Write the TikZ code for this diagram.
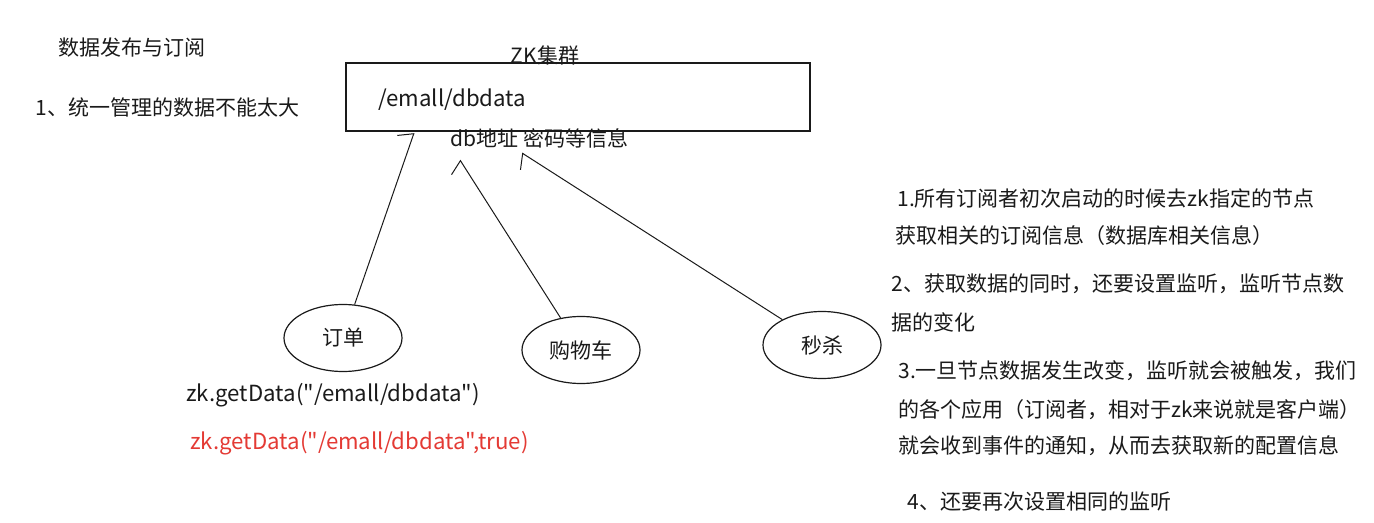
\documentclass[tikz,border=0pt]{standalone}
\usepackage{fontspec}
\setmainfont{Noto Sans CJK SC}[Ligatures=TeXOff]
\usetikzlibrary{arrows.meta,shapes.geometric}
\definecolor{ink}{RGB}{26,26,26}
\definecolor{redink}{RGB}{228,58,52}
\begin{document}
\begin{tikzpicture}[x=0.5pt,y=-0.5pt,
    every node/.style={inner sep=0pt,text=ink,font=\fontsize{10.5}{12}\selectfont},
    txt/.style={anchor=west},
    code/.style={anchor=west,font=\fontsize{11.1}{13}\selectfont},
    app/.style={draw=ink,ellipse,line width=0.6pt,minimum width=59pt,minimum height=33.5pt},
    barb/.style={-{Straight Barb[left,length=3.5pt,width=15pt]},draw=ink,line width=0.5pt}]
  \useasboundingbox[fill=white] (0,0) rectangle (1374,523);
  % titles on the left
  \node[txt] (title) at (58,48) {数据发布与订阅};
  \node[txt] (rule1) at (35,108) {1、统一管理的数据不能太大};
  % zk cluster
  \node (zkname) at (545,56) {ZK集群};
  \node[draw=ink,line width=0.75pt,minimum width=232pt,minimum height=34pt] (zk) at (578,97) {};
  \node[code] (path) at (378,100) {/emall/dbdata};
  \node[txt] (info) at (450,138) {db地址 密码等信息};
  \coordinate (tip1) at (414,133);
  \coordinate (tip2) at (460,160);
  \coordinate (tip3) at (522,153);
  % subscribers
  \node[app] (order) at (343,338) {订单};
  \node[app] (cart) at (581,350) {购物车};
  \node[app] (seckill) at (822,345) {秒杀};
  \draw[barb] (order) -- (tip1);
  \draw[barb] (cart) -- (tip2);
  \draw[barb] (seckill) -- (tip3);
  % calls
  \node[code] (get1) at (186,395) {zk.getData("/emall/dbdata")};
  \node[code,text=redink] (get2) at (190,443) {zk.getData("/emall/dbdata",true)};
  % notes on the right
  \node[txt] (n1a) at (897,198) {1.所有订阅者初次启动的时候去zk指定的节点};
  \node[txt] (n1b) at (895,236) {获取相关的订阅信息（数据库相关信息）};
  \node[txt] (n2a) at (891,284) {2、获取数据的同时，还要设置监听，监听节点数};
  \node[txt] (n2b) at (891,322) {据的变化};
  \node[txt] (n3a) at (898,371) {3.一旦节点数据发生改变，监听就会被触发，我们};
  \node[txt] (n3b) at (898,410) {的各个应用（订阅者，相对于zk来说就是客户端）};
  \node[txt] (n3c) at (898,446) {就会收到事件的通知，从而去获取新的配置信息};
  \node[txt] (n4) at (907,502) {4、还要再次设置相同的监听};
\end{tikzpicture}
\end{document}
